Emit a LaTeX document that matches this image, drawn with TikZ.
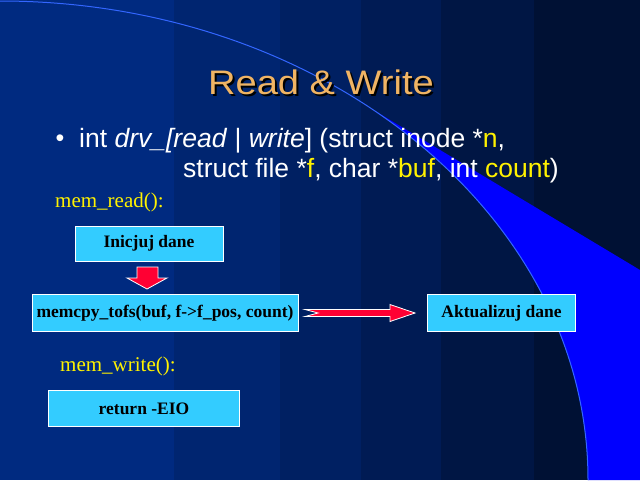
\documentclass[tikz,border=0pt]{standalone}
\usepackage{fontspec,graphicx}
\setmainfont{Liberation Serif}
\setsansfont{Liberation Sans}
\usetikzlibrary{calc}
\definecolor{bandA}{RGB}{0,42,128}
\definecolor{bandB}{RGB}{0,37,112}
\definecolor{bandC}{RGB}{0,32,98}
\definecolor{bandD}{RGB}{0,27,84}
\definecolor{bandE}{RGB}{0,22,68}
\definecolor{bandF}{RGB}{0,17,52}
\definecolor{wedgeblue}{RGB}{0,0,255}
\definecolor{arcblue}{RGB}{51,102,255}
\definecolor{titleorange}{RGB}{240,180,100}
\definecolor{boxcyan}{RGB}{51,204,255}
\definecolor{arrowred}{RGB}{255,0,51}

\begin{document}
\begin{tikzpicture}[x=1pt,y=-1pt,
    box/.style={draw=white,line width=1pt,fill=boxcyan,inner sep=0pt,text=black,font=\fontsize{17.5}{20}\selectfont\bfseries},
    fnname/.style={anchor=base west,inner sep=0pt,text=yellow,font=\fontsize{21}{24}\selectfont},
    bullettext/.style={anchor=base west,inner sep=0pt,text=white,font=\sffamily\fontsize{26.5}{30}\selectfont},
    titletext/.style={anchor=base,inner sep=0pt,font=\sffamily\fontsize{34}{40}\selectfont},
    redarrow/.style={fill=arrowred,draw=white,line width=0.8pt}]
    \useasboundingbox (0,0) rectangle (640,480);
    % background
    \foreach \xa/\xb/\col in {0/174/bandA,174/280/bandB,280/361/bandC,361/441/bandD,441/534/bandE,534/640/bandF}
        \fill[\col] (\xa,0) rectangle (\xb,480);
    \fill[wedgeblue] (372,109.1) arc[start angle=-50.75,end angle=0,x radius=588,y radius=479] -- (640,480) -- (640,270) -- cycle;
    \draw[arcblue,line width=1pt] (0,1) arc[start angle=-90,end angle=0,x radius=588,y radius=479];
    % title and text
    \node[titletext,text=black] (titleshadow) at (323,96) {\scalebox{1.12}[1]{Read \& Write}};
    \node[titletext,text=titleorange] (title) at (321,94) {\scalebox{1.12}[1]{Read \& Write}};
    \node[anchor=base,inner sep=0pt,text=white,font=\sffamily\fontsize{25}{28}\selectfont] (bullet) at (60,146) {\textbullet};
    \node[bullettext] (protoA) at (79,147) {int \textit{drv\_[read} | \textit{write}] (struct inode *\textcolor{yellow}{n},};
    \node[bullettext] (protoB) at (183,177) {struct file *\textcolor{yellow}{f}, char *\textcolor{yellow}{buf}, int \textcolor{yellow}{count})};
    \node[fnname] (memread) at (55,207) {mem\_read():};
    \node[fnname] (memwrite) at (60,371) {mem\_write():};
    % boxes
    \node[box,minimum width=148pt,minimum height=35pt] (inicjuj) at (149,243.5) {Inicjuj dane};
    \node[box,minimum width=266pt,minimum height=37pt] (memcpy) at (165,313) {memcpy\_tofs(buf, f->f\_pos, count)};
    \node[box,minimum width=148pt,minimum height=37pt] (akt) at (501.5,313) {Aktualizuj dane};
    \node[box,minimum width=191pt,minimum height=36pt] (reteio) at (144,408.5) {return -EIO};
    % arrows
    \draw[redarrow] ($(inicjuj.south)+(-12,5.5)$) -- ++(21,0) -- ++(0,11) -- ++(9,0) -- ($(inicjuj.south |- memcpy.north)+(-2,-5)$) -- ++(-20,-11) -- ++(10,0) -- cycle;
    \draw[redarrow] ($(memcpy.east)+(6.5,-3.5)$) -- ++(85,0) -- ++(0,-5) -- ($(akt.west)+(-12,0)$) -- ++(-25,8.5) -- ++(0,-5) -- ++(-85,0) -- ++(13,-3.5) -- cycle;
\end{tikzpicture}
\end{document}
